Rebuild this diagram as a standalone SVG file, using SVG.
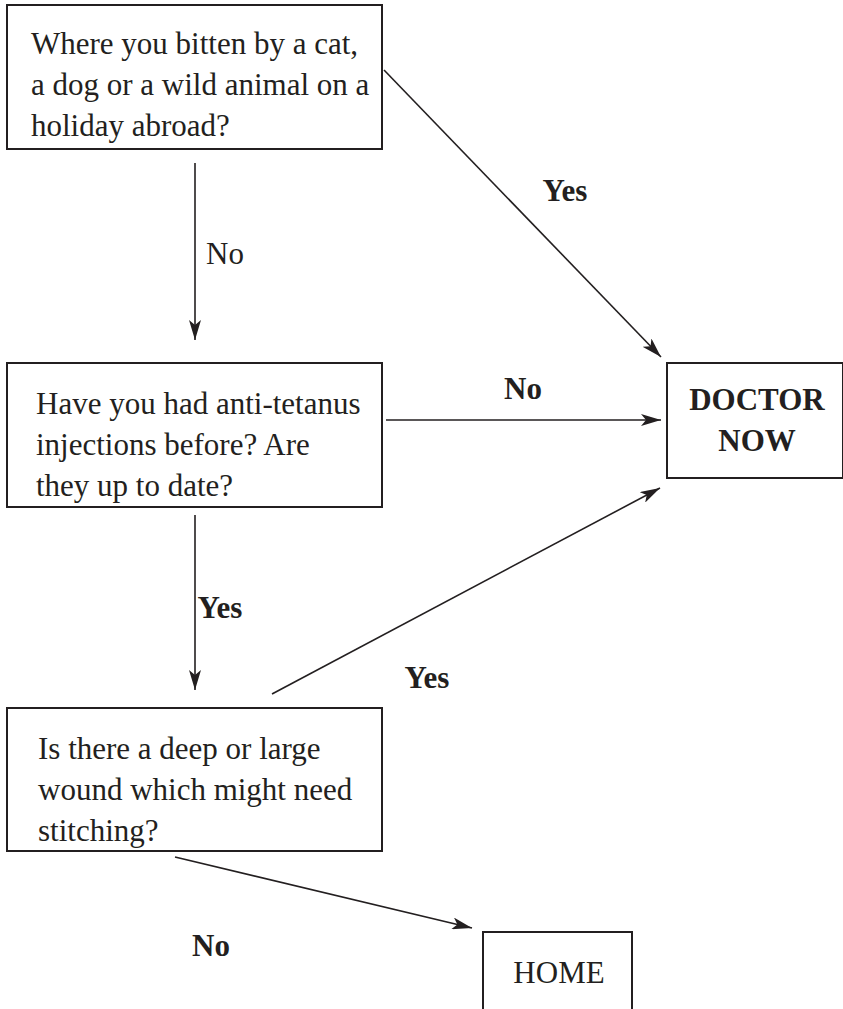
<svg xmlns="http://www.w3.org/2000/svg" width="843" height="1009" viewBox="0 0 843 1009">
<style>
.box{fill:#fff;stroke:#231f20;stroke-width:2}
.t{font-family:"Liberation Serif",serif;font-size:31px;fill:#231f20}
.b{font-weight:bold}
.m{text-anchor:middle}
.c{fill:none;stroke:#231f20;stroke-width:1.6}
</style>
<defs>
<marker id="ah" viewBox="0 0 20 12" refX="20" refY="6" markerWidth="20" markerHeight="12" markerUnits="userSpaceOnUse" orient="auto">
<path d="M0,0 L20,6 L0,12 L5,6 Z" fill="#231f20"/>
</marker>
</defs>
<g id="connectors">
<line class="c" x1="195" y1="163" x2="195" y2="340" marker-end="url(#ah)"/>
<line class="c" x1="384" y1="70" x2="661" y2="357" marker-end="url(#ah)"/>
<line class="c" x1="386" y1="420" x2="661" y2="420" marker-end="url(#ah)"/>
<line class="c" x1="195" y1="515" x2="195" y2="690" marker-end="url(#ah)"/>
<line class="c" x1="272" y1="694" x2="660" y2="488" marker-end="url(#ah)"/>
<line class="c" x1="175" y1="857" x2="472" y2="928" marker-end="url(#ah)"/>
<text class="t b m" x="565" y="201">Yes</text>
<text class="t m" x="225" y="264">No</text>
<text class="t b m" x="523" y="399">No</text>
<text class="t b m" x="220" y="618">Yes</text>
<text class="t b m" x="427" y="688">Yes</text>
<text class="t b m" x="211" y="956">No</text>
</g>
<g id="q1">
<rect class="box" x="7" y="5" width="375" height="144"/>
<text class="t" x="31" y="54">Where you bitten by a cat,</text>
<text class="t" x="31" y="95">a dog or a wild animal on a</text>
<text class="t" x="31" y="136">holiday abroad?</text>
</g>
<g id="q2">
<rect class="box" x="7" y="363" width="375" height="144"/>
<text class="t" x="36" y="414">Have you had anti-tetanus</text>
<text class="t" x="36" y="455">injections before? Are</text>
<text class="t" x="36" y="496">they up to date?</text>
</g>
<g id="q3">
<rect class="box" x="7" y="708" width="375" height="143"/>
<text class="t" x="38" y="759">Is there a deep or large</text>
<text class="t" x="38" y="800">wound which might need</text>
<text class="t" x="38" y="841">stitching?</text>
</g>
<g id="doctor">
<rect class="box" x="667" y="363" width="176" height="115"/>
<text class="t b m" x="757" y="410">DOCTOR</text>
<text class="t b m" x="757" y="451">NOW</text>
</g>
<g id="home">
<rect class="box" x="483" y="932" width="149" height="90"/>
<text class="t m" x="559" y="983">HOME</text>
</g>
</svg>
